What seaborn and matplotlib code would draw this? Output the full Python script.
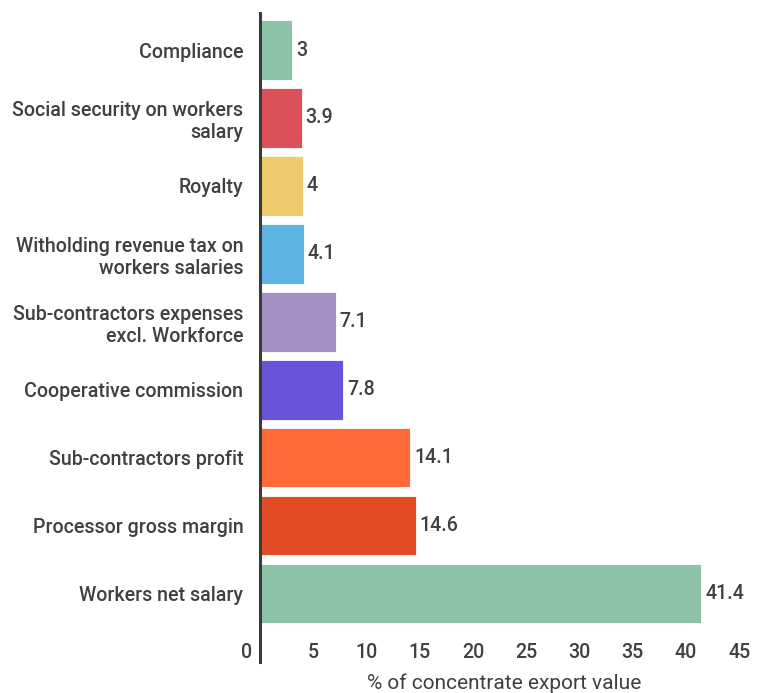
import matplotlib
matplotlib.use("Agg")
import matplotlib.pyplot as plt
import matplotlib.transforms as mtransforms
import seaborn as sns
import pandas as pd

categories = [
    "Compliance",
    "Social security on workers\nsalary",
    "Royalty",
    "Witholding revenue tax on\nworkers salaries",
    "Sub-contractors expenses\nexcl. Workforce",
    "Cooperative commission",
    "Sub-contractors profit",
    "Processor gross margin",
    "Workers net salary",
]
values = [3, 3.9, 4, 4.1, 7.1, 7.8, 14.1, 14.6, 41.4]
value_labels = ["3", "3.9", "4", "4.1", "7.1", "7.8", "14.1", "14.6", "41.4"]
colors = ["#8cc3a7", "#db5157", "#eecb6c", "#5db4e4", "#a68fc7",
          "#6a54d9", "#ff6a38", "#e34c24", "#8cc3a7"]
xticks = [0, 5, 10, 15, 20, 25, 30, 35, 40, 45]
xlabel = "% of concentrate export value"

sns.set_theme(style="white")
plt.rcParams["font.family"] = ["Roboto", "DejaVu Sans"]

TXT = "#404040"
FS = 14.1
W, H = 761, 693
fig = plt.figure(figsize=(W / 100, H / 100), dpi=100)
ax = fig.add_axes([260 / W, 1 - 662 / H, (750 - 260) / W, (662 - 13) / H])

df = pd.DataFrame({"category": categories, "value": values})
sns.barplot(data=df, x="value", y="category", hue="category",
            palette=colors, legend=False, orient="h", width=0.88,
            saturation=1, ax=ax, edgecolor="white", linewidth=0.6)

ax.set_xlim(0, 46)
ax.set_ylim(9.01, -0.545)

for i, (v, lab) in enumerate(zip(values, value_labels)):
    ax.annotate(lab, (v, i), xytext=(3, 0), textcoords="offset points",
                va="center", ha="left", fontsize=FS, color=TXT, fontweight="medium")

for s in ["top", "right", "bottom"]:
    ax.spines[s].set_visible(False)
ax.spines["left"].set_color("#3a3a3a")
ax.spines["left"].set_linewidth(2.2)

ax.set_xticks(xticks)
ax.set_xticklabels([str(t) for t in xticks])
ax.tick_params(axis="x", length=0, pad=-14, labelsize=FS, labelcolor=TXT)
ax.tick_params(axis="y", length=0, pad=12, labelsize=FS, labelcolor=TXT)
for lbl in ax.get_yticklabels() + ax.get_xticklabels():
    lbl.set_fontweight("medium")
for lbl in ax.get_yticklabels():
    lbl.set_horizontalalignment("right")
    lbl.set_multialignment("right")
# shift the "0" label off the spine
zero = ax.get_xticklabels()[0]
zero.set_horizontalalignment("right")
zero.set_transform(zero.get_transform() + mtransforms.ScaledTranslation(-8 / 100, 0, fig.dpi_scale_trans))

ax.set_ylabel("")
ax.set_xlabel(xlabel, fontsize=15, color=TXT, va="center")
ax.xaxis.set_label_coords(0.498, -21 / 649)

fig.savefig("out.png", dpi=100, facecolor="white")
